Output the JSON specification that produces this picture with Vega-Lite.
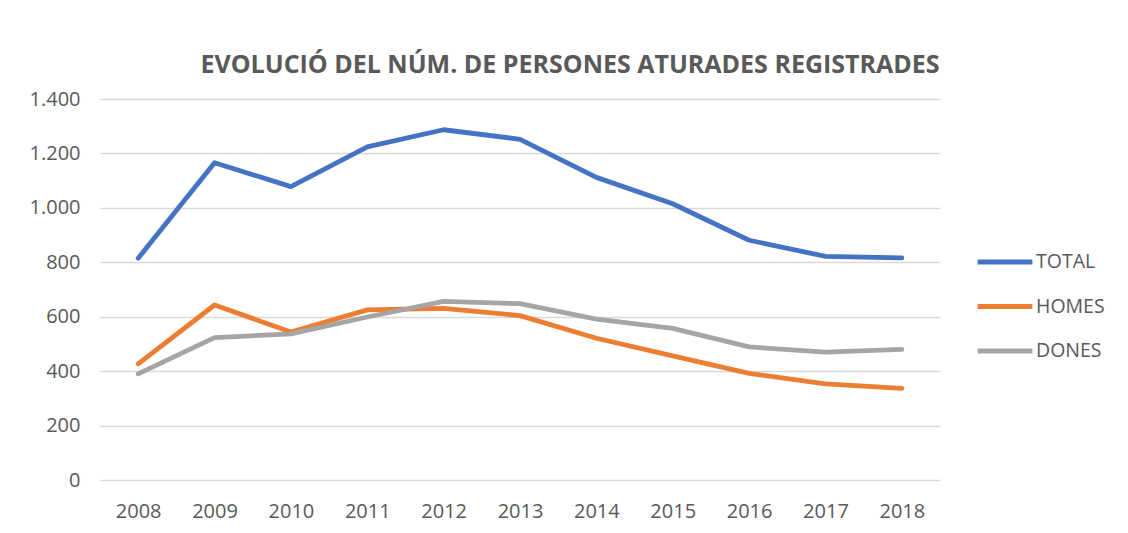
{
  "$schema": "https://vega.github.io/schema/vega-lite/v6.json",
  "width": 840,
  "height": 381,
  "autosize": {"type": "none"},
  "padding": {"left": 100, "top": 99, "right": 188, "bottom": 53},
  "background": "white",
  "config": {
    "locale": {"number": {"decimal": ",", "thousands": ".", "grouping": [3], "currency": ["", " €"]}},
    "view": {"stroke": null},
    "font": "Open Sans"
  },
  "title": {
    "text": "EVOLUCIÓ DEL NÚM. DE PERSONES ATURADES REGISTRADES",
    "font": "Open Sans",
    "fontSize": 25,
    "fontWeight": "bold",
    "color": "#595959",
    "anchor": "middle",
    "baseline": "alphabetic",
    "offset": -9,
    "dx": 50
  },
  "data": {
    "values": [
      {"year": "2008", "serie": "TOTAL", "value": 815},
      {"year": "2009", "serie": "TOTAL", "value": 1166},
      {"year": "2010", "serie": "TOTAL", "value": 1078},
      {"year": "2011", "serie": "TOTAL", "value": 1224},
      {"year": "2012", "serie": "TOTAL", "value": 1287},
      {"year": "2013", "serie": "TOTAL", "value": 1252},
      {"year": "2014", "serie": "TOTAL", "value": 1112},
      {"year": "2015", "serie": "TOTAL", "value": 1015},
      {"year": "2016", "serie": "TOTAL", "value": 881},
      {"year": "2017", "serie": "TOTAL", "value": 822},
      {"year": "2018", "serie": "TOTAL", "value": 816},
      {"year": "2008", "serie": "HOMES", "value": 427},
      {"year": "2009", "serie": "HOMES", "value": 643},
      {"year": "2010", "serie": "HOMES", "value": 544},
      {"year": "2011", "serie": "HOMES", "value": 625},
      {"year": "2012", "serie": "HOMES", "value": 631},
      {"year": "2013", "serie": "HOMES", "value": 604},
      {"year": "2014", "serie": "HOMES", "value": 521},
      {"year": "2015", "serie": "HOMES", "value": 456},
      {"year": "2016", "serie": "HOMES", "value": 392},
      {"year": "2017", "serie": "HOMES", "value": 353},
      {"year": "2018", "serie": "HOMES", "value": 337},
      {"year": "2008", "serie": "DONES", "value": 390},
      {"year": "2009", "serie": "DONES", "value": 523},
      {"year": "2010", "serie": "DONES", "value": 537},
      {"year": "2011", "serie": "DONES", "value": 599},
      {"year": "2012", "serie": "DONES", "value": 656},
      {"year": "2013", "serie": "DONES", "value": 648},
      {"year": "2014", "serie": "DONES", "value": 591},
      {"year": "2015", "serie": "DONES", "value": 557},
      {"year": "2016", "serie": "DONES", "value": 489},
      {"year": "2017", "serie": "DONES", "value": 470},
      {"year": "2018", "serie": "DONES", "value": 480}
    ]
  },
  "mark": {"type": "line", "strokeWidth": 4.8, "strokeCap": "round", "strokeJoin": "round"},
  "encoding": {
    "x": {
      "field": "year",
      "type": "ordinal",
      "scale": {"type": "point", "padding": 0.5},
      "axis": {
        "title": null,
        "labelAngle": 0,
        "ticks": false,
        "domain": false,
        "grid": false,
        "labelFont": "Open Sans",
        "labelFontSize": 20,
        "labelColor": "#595959",
        "labelBaseline": "middle",
        "labelPadding": 31
      }
    },
    "y": {
      "field": "value",
      "type": "quantitative",
      "scale": {"domain": [0, 1400], "nice": false},
      "axis": {
        "title": null,
        "values": [0, 200, 400, 600, 800, 1000, 1200, 1400],
        "format": ",d",
        "ticks": false,
        "domain": false,
        "grid": true,
        "gridColor": "#d9d9d9",
        "gridWidth": 1.5,
        "labelFont": "Open Sans",
        "labelFontSize": 20,
        "labelColor": "#595959",
        "labelPadding": 20
      }
    },
    "color": {
      "field": "serie",
      "type": "nominal",
      "scale": {"domain": ["TOTAL", "HOMES", "DONES"], "range": ["#4472C4", "#ED7D31", "#A5A5A5"]},
      "legend": {
        "title": null,
        "orient": "none",
        "legendX": 875,
        "legendY": 133,
        "symbolType": "stroke",
        "symbolSize": 3000,
        "symbolStrokeWidth": 5,
        "labelFont": "Open Sans",
        "labelFontSize": 19.5,
        "labelColor": "#595959",
        "labelOffset": 1,
        "rowPadding": 4.5
      }
    }
  }
}
